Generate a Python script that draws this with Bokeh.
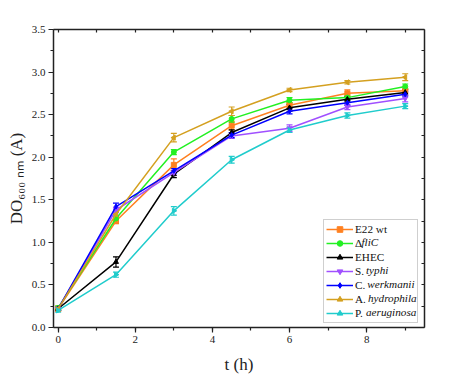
import math
from bokeh.plotting import figure
from bokeh.models import (Range1d, LinearAxis, SingleIntervalTicker, Whisker, TeeHead,
                          ColumnDataSource, Legend, LegendItem, Label,
                          CustomJSTickFormatter, PrintfTickFormatter)
from bokeh.embed import file_html
from bokeh.resources import INLINE

# ---- data ----
t = [0, 1.5, 3, 4.5, 6, 7.5, 9]
e22 = [0.22, 1.25, 1.91, 2.37, 2.61, 2.75, 2.78]
e22_err = [0.03, 0.03, 0.07, 0.05, 0.03, 0.04, 0.03]
flic = [0.23, 1.28, 2.06, 2.45, 2.67, 2.70, 2.83]
flic_err = [0.02, 0.03, 0.03, 0.04, 0.03, 0.03, 0.03]
ehec = [0.22, 0.77, 1.80, 2.29, 2.58, 2.68, 2.76]
ehec_err = [0.02, 0.06, 0.04, 0.03, 0.04, 0.03, 0.03]
styphi = [0.22, 1.38, 1.82, 2.25, 2.34, 2.59, 2.69]
styphi_err = [0.02, 0.03, 0.03, 0.03, 0.04, 0.03, 0.04]
cwerk = [0.22, 1.42, 1.84, 2.26, 2.54, 2.64, 2.74]
cwerk_err = [0.02, 0.04, 0.03, 0.03, 0.03, 0.03, 0.03]
ahyd = [0.22, 1.33, 2.23, 2.54, 2.79, 2.88, 2.94]
ahyd_err = [0.02, 0.03, 0.05, 0.05, 0.02, 0.02, 0.04]
paer = [0.20, 0.62, 1.37, 1.97, 2.32, 2.49, 2.60]
paer_err = [0.02, 0.03, 0.05, 0.04, 0.03, 0.03, 0.03]

# legend text: (normal part, italic part)
names = [("E22 wt", ""), ("\u0394", "fliC"), ("EHEC", ""), ("S.", "typhi"),
         ("C.", "werkmanii"), ("A.", "hydrophila"), ("P.", "aeruginosa")]
series = [e22, flic, ehec, styphi, cwerk, ahyd, paer]
errors = [e22_err, flic_err, ehec_err, styphi_err, cwerk_err, ahyd_err, paer_err]
colors = ["#FF8020", "#22F022", "#000000", "#A050FF", "#0000FF", "#D4A020", "#20CCCC"]
markers = ["square", "circle", "triangle", "inverted_triangle", "diamond", "triangle", "triangle"]
angles = [0, 0, 0, 0, 0, math.pi / 2, -math.pi / 2]
italic_offsets = [0, 7.0, 0, 11.5, 12.8, 13.5, 11.5]

FONT = "Liberation Serif"
AX = "#222222"

p = figure(width=442, height=378, output_backend="svg", toolbar_location=None,
           x_range=Range1d(-0.12, 9.5), y_range=Range1d(0, 3.5),
           min_border_left=53, min_border_right=18, min_border_top=29, min_border_bottom=51)
p.grid.visible = False
p.outline_line_color = None
p.background_fill_color = "white"
p.border_fill_color = "white"

# main axes
for ax in list(p.xaxis) + list(p.yaxis):
    ax.axis_line_color = AX
    ax.axis_line_width = 1.5
    ax.major_tick_line_color = AX
    ax.minor_tick_line_color = AX
    ax.major_tick_line_width = 1.2
    ax.minor_tick_line_width = 1.2
    ax.major_tick_out = 5
    ax.major_tick_in = 0
    ax.minor_tick_out = 3
    ax.minor_tick_in = 0
    ax.major_label_text_font = FONT
    ax.major_label_text_font_size = "11px"
    ax.major_label_text_color = AX
    ax.major_label_standoff = 3
    ax.axis_label_text_font = FONT
    ax.axis_label_text_font_style = "normal"
    ax.axis_label_text_color = AX
p.xaxis.ticker = SingleIntervalTicker(interval=2, num_minor_ticks=2)
p.yaxis.ticker = SingleIntervalTicker(interval=0.5, num_minor_ticks=2)
p.yaxis.formatter = PrintfTickFormatter(format="%.1f")
p.xaxis.axis_label = "t (h)"
p.xaxis.axis_label_text_font_size = "17px"
p.xaxis.axis_label_standoff = 9
p.yaxis.axis_label = "DO\u2086\u2080\u2080 \u2099\u2098 (A)"
p.yaxis.axis_label_text_font_size = "17px"
p.yaxis.axis_label_standoff = 3

# mirror axes
blank = CustomJSTickFormatter(code="return ''")
top = LinearAxis(ticker=SingleIntervalTicker(interval=1, num_minor_ticks=0), formatter=blank)
right = LinearAxis(ticker=SingleIntervalTicker(interval=0.25, num_minor_ticks=0), formatter=blank)
for ax in (top, right):
    ax.axis_line_color = AX
    ax.axis_line_width = 1.5
    ax.major_tick_line_color = AX
    ax.major_tick_line_width = 1.2
    ax.major_tick_in = 3
    ax.major_tick_out = 0
    ax.minor_tick_line_color = None
    ax.major_label_standoff = 0
p.add_layout(top, "above")
p.add_layout(right, "right")

items = []
for ys, err, c, m, a, (norm, ital) in zip(series, errors, colors, markers, angles, names):
    src = ColumnDataSource(dict(x=t, y=ys,
                                upper=[v + e for v, e in zip(ys, err)],
                                lower=[v - e for v, e in zip(ys, err)]))
    lr = p.line("x", "y", source=src, line_color=c, line_width=1.5)
    w = Whisker(source=src, base="x", upper="upper", lower="lower",
                line_color=c, line_width=1.2,
                upper_head=TeeHead(size=6, line_color=c, line_width=1.2),
                lower_head=TeeHead(size=6, line_color=c, line_width=1.2))
    p.add_layout(w)
    sr = p.scatter("x", "y", source=src, marker=m, angle=a, size=5,
                   fill_color=c, line_color=c)
    items.append(LegendItem(label=norm, renderers=[lr, sr]))

legend = Legend(items=items, location=(270, 4), padding=2, spacing=0,
                glyph_height=14, glyph_width=27, label_height=14, label_width=60,
                label_standoff=2, label_text_font=FONT, label_text_font_size="11.2px",
                label_text_color="#111111", margin=0,
                border_line_color="#A0A0A0", border_line_width=1,
                background_fill_color="white", background_fill_alpha=0)
p.add_layout(legend, "center")

# italic parts of legend texts
for i, ((norm, ital), off) in enumerate(zip(names, italic_offsets)):
    if not ital:
        continue
    yy = 99.5 - 14 * i
    p.add_layout(Label(x=301 + off, y=yy, x_units="screen", y_units="screen", text=ital,
                       text_font=FONT, text_font_size="11.2px", text_font_style="italic",
                       text_color="#111111", text_baseline="middle", text_align="left"))

open("out.html", "w").write(file_html(p, INLINE))
